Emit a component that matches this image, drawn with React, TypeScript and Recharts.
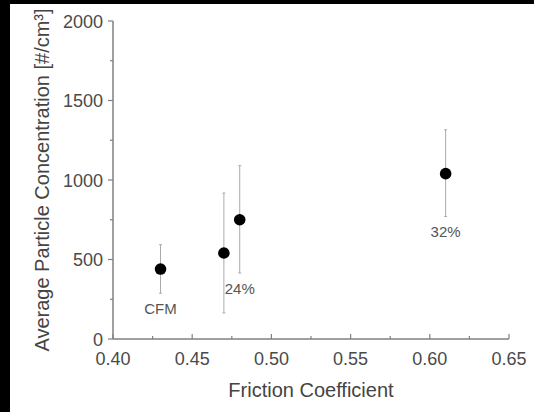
import React from "react";
import {
  ScatterChart,
  Scatter,
  XAxis,
  YAxis,
  ErrorBar,
  ReferenceDot,
} from "recharts";

// friction coefficient vs. average particle concentration
const frictionCoef = [0.43, 0.47, 0.48, 0.61];
const avgConcentration = [440, 541, 750, 1040];
const errLower = [152, 377, 335, 270];
const errUpper = [153, 377, 340, 276];
const pointLabels = ["CFM", "", "24%", "32%"];

const xMajorTicks = [0.4, 0.45, 0.5, 0.55, 0.6, 0.65];
const xMinorTicks = [0.425, 0.475, 0.525, 0.575, 0.625];
const yMajorTicks = [0, 500, 1000, 1500, 2000];
const yMinorTicks = [250, 750, 1250, 1750];

const data = frictionCoef.map((x, i) => ({
  x,
  y: avgConcentration[i],
  err: [errLower[i], errUpper[i]],
}));

const FONT = '"Liberation Sans", Arial, sans-serif';
const AXIS = "#808080";
const TEXT = "#4a4a4a";

const isMajor = (list: number[], v: number) =>
  list.some((t) => Math.abs(t - v) < 1e-9);

const XTick = (props: any) => {
  const { x, y, payload } = props;
  const major = isMajor(xMajorTicks, payload.value);
  return (
    <g>
      <line x1={x} x2={x} y1={y} y2={y - (major ? 5 : 3)} stroke={AXIS} strokeWidth={1.2} />
      {major && (
        <text x={x} y={y + 26} textAnchor="middle" fontSize={18} fontFamily={FONT} fill={TEXT}>
          {payload.value.toFixed(2)}
        </text>
      )}
    </g>
  );
};

const YTick = (props: any) => {
  const { x, y, payload } = props;
  const major = isMajor(yMajorTicks, payload.value);
  return (
    <g>
      <line x1={x} x2={x - (major ? 5 : 3)} y1={y} y2={y} stroke={AXIS} strokeWidth={1.2} />
      {major && (
        <text x={x - 10} y={y + 6.5} textAnchor="end" fontSize={18} fontFamily={FONT} fill={TEXT}>
          {payload.value}
        </text>
      )}
    </g>
  );
};

const Dot = (props: any) => <circle cx={props.cx} cy={props.cy} r={5.8} fill="#000" />;

export default function App() {
  return (
    <div style={{ position: "absolute", left: 0, top: 0, width: 534, height: 412, background: "#000" }}>
      <div style={{ position: "absolute", left: 10, top: 4, width: 524, height: 408, background: "#fff" }} />
      <div style={{ position: "absolute", left: 0, top: 0 }}>
        <ScatterChart width={534} height={412} margin={{ top: 21, right: 25, bottom: 15, left: 0 }}>
          <XAxis
            type="number"
            dataKey="x"
            domain={[0.4, 0.65]}
            ticks={[...xMajorTicks, ...xMinorTicks]}
            interval={0}
            tick={<XTick />}
            tickLine={false}
            tickSize={0}
            tickMargin={0}
            height={58}
            axisLine={{ stroke: AXIS, strokeWidth: 1.5 }}
            label={{
              value: "Friction Coefficient",
              position: "insideBottom",
              offset: 0,
              fontSize: 20,
              fontFamily: FONT,
              fill: "#444",
            }}
          />
          <YAxis
            type="number"
            dataKey="y"
            domain={[0, 2000]}
            ticks={[...yMajorTicks, ...yMinorTicks]}
            interval={0}
            tick={<YTick />}
            tickLine={false}
            tickSize={0}
            tickMargin={0}
            width={113}
            axisLine={{ stroke: AXIS, strokeWidth: 1.5 }}
            label={{
              value: "Average Particle Concentration [#/cm³]",
              angle: -90,
              position: "insideLeft",
              offset: 42,
              fontSize: 20,
              fontFamily: FONT,
              fill: "#444",
              style: { textAnchor: "middle" },
            }}
          />
          <Scatter data={data} shape={<Dot />} isAnimationActive={false}>
            <ErrorBar dataKey="err" direction="y" width={1.5} stroke="#aaa" strokeWidth={1} />
          </Scatter>
          {data.map((d, i) =>
            pointLabels[i] ? (
              <ReferenceDot
                key={i}
                x={d.x}
                y={d.y - errLower[i]}
                r={0}
                stroke="none"
                fill="none"
                label={{
                  value: pointLabels[i],
                  position: "bottom",
                  offset: 10,
                  fontSize: 15,
                  fontFamily: FONT,
                  fill: "#555",
                }}
              />
            ) : null
          )}
        </ScatterChart>
      </div>
    </div>
  );
}
